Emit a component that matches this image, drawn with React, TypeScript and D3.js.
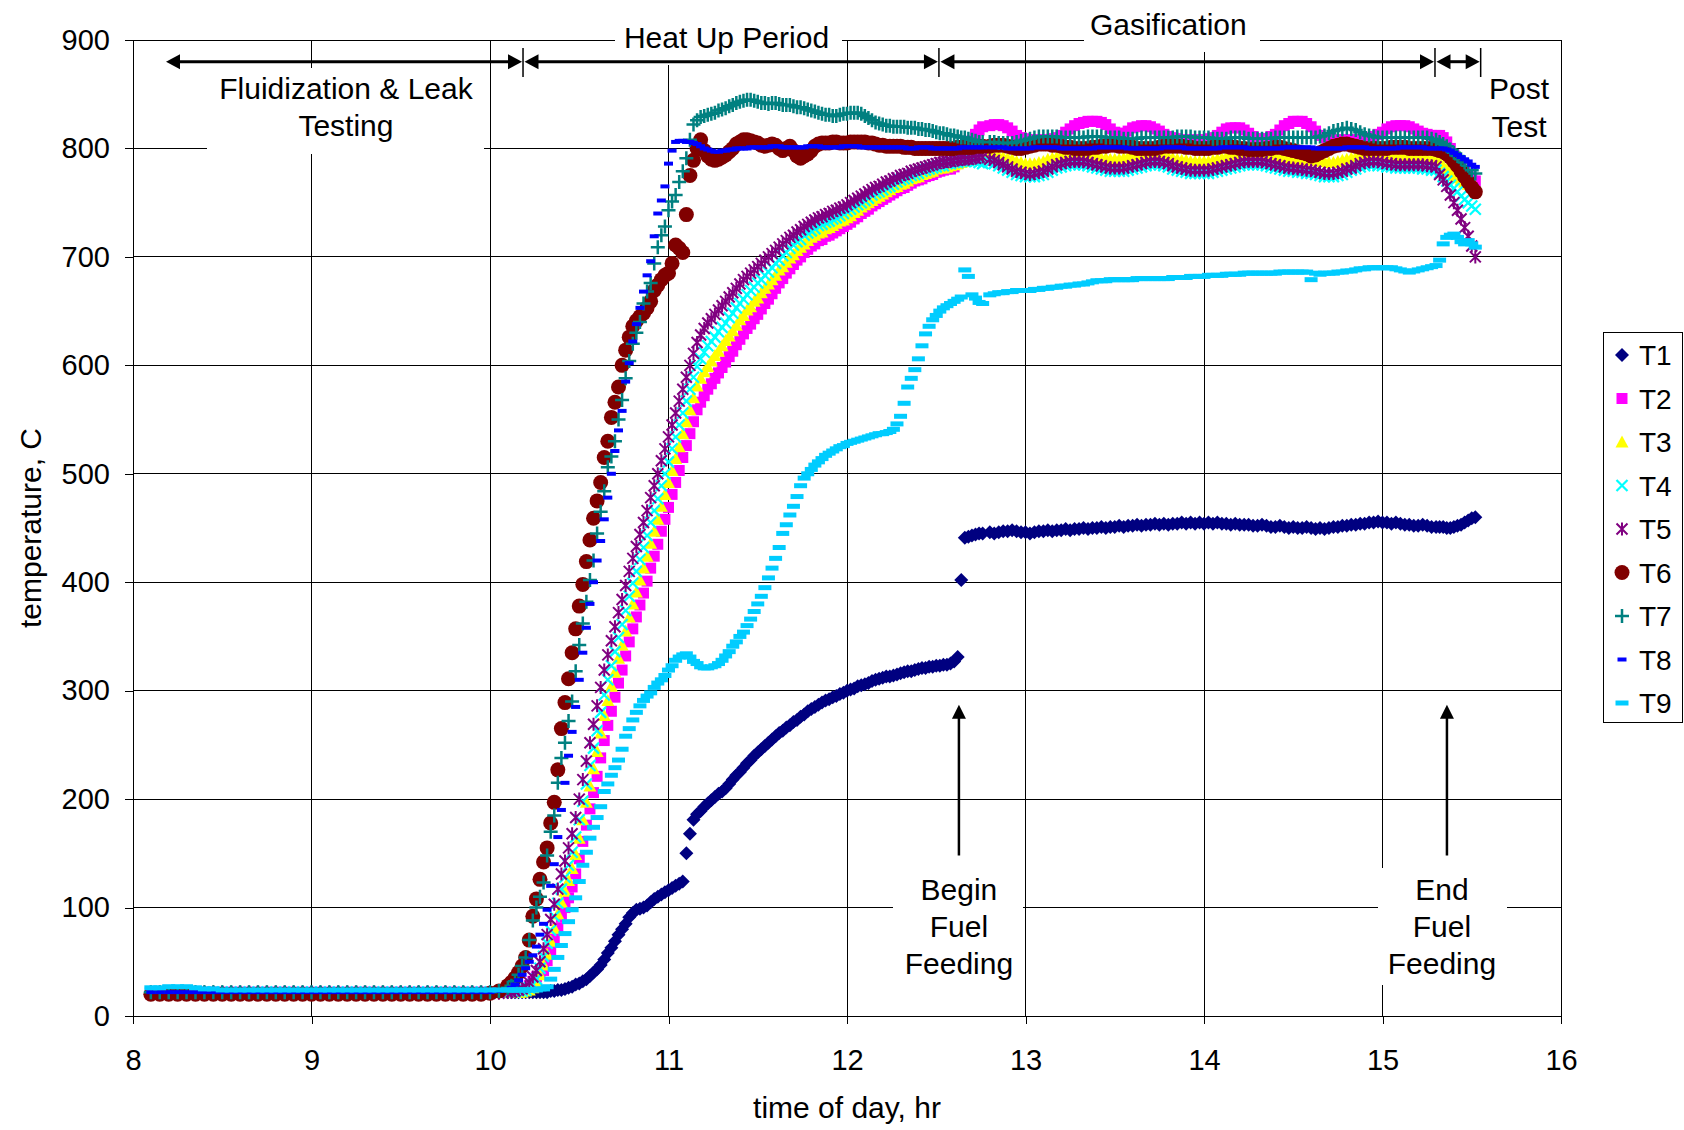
import React, { useEffect, useRef } from 'react';
import * as d3 from 'd3';

const FONT = '"Liberation Sans", Arial, Helvetica, sans-serif';

const xTicks = [8, 9, 10, 11, 12, 13, 14, 15, 16];
const yTicks = [0, 100, 200, 300, 400, 500, 600, 700, 800, 900];

// logger sampling (hours): start, end, step
const sampleSegments: [number, number, number][] = [
  [8.1, 10.1, 0.05],
  [10.12, 12.76, 0.02],
  [12.8, 15.3, 0.025],
  [15.32, 15.52, 0.02],
];

const T1 = [
  22, 22, 22, 22, 22, 22, 22, 22, 22, 22,
  22, 22, 22, 22, 22, 22, 22, 22, 22, 22,
  22, 22, 22, 22, 22, 22, 22, 22, 22, 22,
  22, 22, 22, 22, 22, 22, 22, 22, 22, 22,
  22,
  22, 22, 22, 22, 22, 22, 22, 22, 22, 22,
  22, 23, 23, 24, 24, 25, 26, 27, 29, 30,
  32, 34, 37, 40, 43, 47, 52, 58, 63, 69,
  75, 80, 85, 91, 95, 98, 99, 100, 102, 105,
  108, 110, 112, 114, 116, 118, 120, 122, 124, 150,
  168, 181, 186, 189, 193, 196, 199, 202, 205, 207,
  210, 214, 218, 222, 225, 229, 233, 236, 240, 243,
  246, 249, 252, 255, 258, 261, 263, 266, 268, 271,
  273, 276, 278, 281, 283, 285, 287, 289, 291, 292,
  294, 295, 297, 298, 300, 301, 302, 304, 305, 306,
  307, 309, 310, 311, 312, 313, 313, 314, 315, 316,
  317, 318, 318, 319, 320, 321, 321, 322, 322, 323,
  323, 324, 324, 325, 327, 331, 402, 441, 442, 443,
  444, 445, 445,
  446, 445, 446, 447, 447, 448, 447, 446, 446, 445,
  446, 447, 447, 448, 447, 448, 448, 449, 448, 449,
  449, 450, 449, 450, 450, 451, 450, 451, 451, 452,
  451, 452, 452, 453, 452, 453, 453, 454, 453, 454,
  453, 454, 454, 455, 454, 455, 454, 455, 454, 455,
  454, 455, 454, 454, 453, 454, 453, 453, 453, 452,
  452, 453, 452, 451, 451, 452, 451, 450, 451, 450,
  450, 451, 450, 449, 450, 449, 450, 451, 451, 452,
  452, 453, 453, 454, 454, 455, 455, 456, 455, 455,
  454, 455, 454, 453, 453, 452, 452, 453, 452, 451,
  451,
  451, 451, 450, 450, 451, 452, 453, 455, 457, 459, 460,
];

const T2 = [
  22, 22, 22, 22, 22, 22, 22, 22, 22, 22,
  22, 22, 22, 22, 22, 22, 22, 22, 22, 22,
  22, 22, 22, 22, 22, 22, 22, 22, 22, 22,
  22, 22, 22, 22, 22, 22, 22, 22, 22, 22,
  22,
  22, 22, 23, 24, 25, 28, 32, 36, 40, 42,
  51, 61, 71, 81, 91, 100, 109, 119, 131, 145,
  161, 176, 191, 206, 221, 238, 254, 268, 281, 294,
  307, 319, 332, 345, 357, 368, 379, 390, 401, 413,
  424, 435, 447, 458, 469, 481, 492, 503, 515, 526,
  537, 548, 559, 566, 572, 578, 583, 588, 593, 598,
  603, 608, 613, 619, 624, 629, 634, 638, 643, 647,
  652, 657, 661, 666, 671, 676, 680, 685, 689, 693,
  697, 700, 704, 707, 710, 712, 715, 716, 719, 720,
  722, 724, 726, 728, 730, 732, 735, 737, 740, 742,
  744, 747, 749, 751, 753, 755, 757, 759, 761, 763,
  764, 766, 768, 770, 771, 772, 774, 775, 776, 778,
  779, 780, 781, 781, 783, 786, 790, 795, 801, 807,
  813, 817, 820,
  821, 822, 822, 821, 819, 816, 812, 810, 809, 808,
  808, 808, 808, 808, 809, 810, 812, 815, 818, 821,
  823, 824, 825, 825, 825, 824, 822, 818, 815, 814,
  814, 816, 819, 820, 821, 821, 820, 818, 816, 813,
  811, 810, 809, 808, 808, 808, 808, 808, 808, 809,
  810, 812, 815, 818, 819, 819, 819, 817, 814, 811,
  809, 809, 809, 811, 813, 817, 821, 823, 825, 825,
  825, 823, 820, 816, 812, 810, 809, 808, 808, 808,
  808, 808, 808, 808, 809, 810, 811, 813, 815, 818,
  820, 821, 821, 821, 820, 818, 816, 814, 813, 812,
  812,
  812, 810, 806, 800, 794, 788, 783, 779, 775, 772, 770,
];

const T3 = [
  22, 22, 22, 22, 22, 22, 22, 22, 22, 22,
  22, 22, 22, 22, 22, 22, 22, 22, 22, 22,
  22, 22, 22, 22, 22, 22, 22, 22, 22, 22,
  22, 22, 22, 22, 22, 22, 22, 22, 22, 22,
  22,
  22, 22, 22, 22, 23, 24, 26, 30, 38, 47,
  57, 69, 81, 94, 105, 115, 125, 136, 149, 164,
  181, 197, 212, 228, 244, 261, 277, 291, 304, 317,
  330, 342, 355, 368, 380, 391, 402, 413, 424, 436,
  447, 458, 470, 481, 492, 503, 514, 525, 537, 548,
  559, 570, 581, 588, 594, 599, 604, 609, 613, 618,
  623, 627, 632, 637, 642, 646, 651, 654, 659, 662,
  667, 671, 675, 679, 683, 688, 691, 695, 699, 702,
  706, 709, 712, 715, 718, 720, 722, 723, 726, 727,
  729, 731, 733, 734, 736, 738, 741, 743, 746, 748,
  750, 752, 754, 756, 758, 760, 762, 764, 765, 767,
  768, 770, 772, 773, 774, 776, 777, 778, 779, 781,
  782, 782, 783, 784, 785, 786, 787, 788, 789, 790,
  791, 791, 792,
  794, 794, 793, 792, 791, 790, 788, 787, 786, 786,
  786, 787, 788, 790, 791, 792, 793, 794, 794, 794,
  794, 794, 793, 792, 792, 791, 791, 790, 790, 790,
  791, 792, 793, 794, 794, 795, 795, 795, 794, 793,
  792, 791, 790, 789, 789, 788, 788, 788, 788, 788,
  789, 790, 791, 792, 793, 794, 794, 794, 794, 794,
  794, 794, 793, 792, 792, 791, 791, 790, 790, 790,
  789, 789, 789, 789, 788, 788, 787, 787, 788, 789,
  790, 791, 792, 793, 794, 795, 795, 795, 794, 794,
  793, 792, 792, 792, 792, 792, 792, 792, 791, 790,
  790,
  787, 784, 781, 778, 775, 773, 771, 769, 767, 766, 765,
];

const T4 = [
  22, 22, 22, 22, 22, 22, 22, 22, 22, 22,
  22, 22, 22, 22, 22, 22, 22, 22, 22, 22,
  22, 22, 22, 22, 22, 22, 22, 22, 22, 22,
  22, 22, 22, 22, 22, 22, 22, 22, 22, 22,
  22,
  22, 22, 23, 23, 24, 26, 29, 34, 44, 55,
  67, 79, 92, 104, 117, 128, 139, 151, 165, 181,
  198, 214, 231, 247, 263, 280, 296, 310, 323, 336,
  349, 361, 374, 387, 399, 410, 421, 432, 443, 455,
  466, 477, 489, 500, 511, 523, 534, 545, 556, 567,
  578, 589, 599, 606, 612, 618, 622, 626, 631, 635,
  639, 644, 648, 653, 657, 661, 665, 669, 672, 676,
  679, 683, 686, 690, 694, 697, 701, 704, 708, 711,
  714, 716, 720, 722, 724, 726, 729, 730, 732, 733,
  735, 736, 738, 740, 742, 744, 746, 748, 750, 752,
  754, 757, 759, 760, 762, 764, 765, 767, 769, 771,
  772, 773, 775, 776, 777, 779, 780, 781, 782, 783,
  784, 784, 786, 786, 787, 787, 788, 788, 789, 789,
  788, 787, 786,
  787, 786, 784, 782, 780, 778, 776, 775, 774, 774,
  774, 775, 776, 778, 780, 782, 783, 784, 785, 785,
  785, 785, 784, 783, 782, 781, 780, 779, 779, 779,
  779, 780, 781, 782, 783, 784, 785, 785, 785, 784,
  783, 781, 780, 779, 778, 777, 777, 777, 777, 777,
  778, 779, 780, 781, 782, 783, 784, 785, 785, 785,
  785, 785, 784, 783, 782, 781, 780, 779, 779, 778,
  778, 777, 777, 776, 775, 774, 774, 774, 775, 776,
  778, 780, 781, 783, 784, 785, 785, 784, 784, 783,
  783, 782, 782, 782, 782, 782, 782, 781, 781, 780,
  780,
  777, 774, 770, 766, 763, 760, 756, 753, 750, 747, 744,
];

const T5 = [
  21, 21, 21, 21, 21, 21, 21, 21, 21, 21,
  21, 21, 21, 21, 21, 21, 21, 21, 21, 21,
  21, 21, 21, 21, 21, 21, 21, 21, 21, 21,
  21, 21, 21, 21, 21, 21, 21, 21, 21, 21,
  22,
  22, 23, 24, 25, 27, 31, 36, 42, 50, 62,
  75, 89, 103, 117, 131, 143, 155, 168, 183, 200,
  218, 235, 252, 269, 286, 303, 319, 333, 346, 359,
  372, 384, 397, 410, 422, 433, 444, 455, 466, 478,
  489, 500, 512, 523, 534, 545, 556, 567, 578, 589,
  600, 611, 621, 628, 634, 639, 643, 647, 651, 655,
  659, 663, 667, 671, 675, 679, 682, 685, 688, 691,
  694, 697, 700, 703, 706, 709, 712, 715, 718, 720,
  723, 725, 728, 730, 732, 734, 736, 737, 739, 740,
  742, 743, 745, 746, 748, 750, 752, 754, 756, 758,
  760, 762, 764, 765, 767, 769, 770, 772, 773, 775,
  776, 777, 779, 780, 781, 782, 783, 784, 785, 786,
  787, 787, 788, 788, 789, 789, 790, 790, 790, 791,
  791, 792, 792,
  790, 789, 787, 785, 783, 781, 779, 778, 777, 776,
  777, 778, 779, 781, 783, 785, 786, 787, 788, 788,
  788, 788, 787, 786, 785, 784, 783, 782, 782, 782,
  782, 783, 784, 785, 786, 787, 788, 788, 788, 787,
  786, 784, 783, 782, 781, 780, 780, 780, 780, 780,
  781, 782, 783, 784, 785, 786, 787, 788, 788, 788,
  788, 788, 787, 786, 785, 784, 783, 782, 782, 781,
  781, 780, 780, 779, 778, 777, 777, 777, 778, 779,
  781, 782, 784, 786, 787, 788, 788, 788, 787, 786,
  786, 785, 785, 785, 785, 785, 785, 785, 784, 784,
  783,
  776, 771, 765, 757, 750, 743, 735, 727, 719, 710, 700,
];

const T6 = [
  20, 20, 20, 20, 20, 20, 20, 20, 20, 20,
  20, 20, 20, 20, 20, 20, 20, 20, 20, 20,
  20, 20, 20, 20, 20, 20, 20, 20, 20, 20,
  20, 20, 20, 20, 20, 20, 20, 20, 21, 23,
  28,
  31, 35, 40, 46, 54, 70, 92, 108, 126, 142,
  155, 178, 197, 227, 265, 289, 311, 335, 357, 378,
  398, 419, 439, 459, 475, 492, 515, 530, 552, 566,
  580, 600, 614, 626, 636, 641, 645, 648, 653, 659,
  669, 674, 679, 683, 685, 694, 711, 708, 704, 739,
  775, 789, 800, 808, 798, 793, 790, 789, 790, 792,
  794, 797, 800, 804, 806, 808, 808, 807, 806, 805,
  803, 802, 803, 804, 803, 800, 798, 800, 802, 798,
  793, 791, 793, 795, 798, 802, 804, 805, 805, 805,
  806, 806, 805, 805, 805, 806, 806, 806, 806, 806,
  805, 805, 804, 803, 803, 802, 802, 802, 802, 802,
  801, 801, 801, 800, 800, 800, 800, 800, 800, 800,
  800, 800, 800, 800, 800, 801, 801, 801, 801, 801,
  802, 802, 802,
  802, 803, 803, 803, 802, 801, 800, 800, 801, 802,
  803, 804, 804, 804, 803, 803, 802, 801, 801, 800,
  800, 800, 800, 801, 801, 802, 802, 803, 803, 802,
  802, 802, 801, 800, 800, 800, 800, 800, 801, 802,
  802, 802, 802, 802, 801, 801, 800, 800, 800, 800,
  801, 801, 802, 802, 801, 801, 800, 800, 799, 799,
  799, 799, 800, 800, 801, 801, 800, 799, 798, 797,
  796, 795, 793, 794, 796, 798, 800, 802, 803, 804,
  804, 803, 802, 801, 800, 800, 800, 800, 800, 800,
  801, 801, 801, 801, 800, 800, 800, 800, 800, 800,
  799,
  798, 797, 795, 792, 788, 784, 779, 774, 769, 764, 760,
];

const T7 = [
  22, 22, 22, 22, 22, 22, 22, 22, 22, 22,
  22, 22, 22, 22, 22, 22, 22, 22, 22, 22,
  22, 22, 22, 22, 22, 22, 22, 22, 22, 22,
  22, 22, 22, 22, 22, 22, 22, 22, 22, 23,
  26,
  28, 32, 38, 46, 54, 70, 88, 100, 110, 123,
  148, 170, 185, 215, 238, 252, 272, 290, 318, 342,
  362, 382, 402, 420, 445, 465, 484, 506, 516, 530,
  550, 568, 588, 604, 620, 630, 640, 657, 668, 676,
  694, 709, 720, 728, 743, 751, 757, 769, 779, 791,
  808, 822, 826, 829, 830, 831, 832, 833, 835, 836,
  837, 839, 840, 842, 843, 844, 845, 845, 844, 843,
  842, 842, 841, 842, 842, 841, 840, 840, 840, 839,
  838, 838, 837, 836, 835, 834, 833, 832, 831, 831,
  830, 830, 831, 832, 832, 833, 833, 833, 832, 830,
  828, 826, 824, 823, 822, 821, 821, 820, 820, 820,
  820, 819, 819, 819, 818, 818, 817, 817, 816, 815,
  814, 814, 813, 812, 812, 811, 810, 810, 809, 808,
  807, 806, 806,
  806, 806, 805, 805, 805, 805, 806, 807, 808, 809,
  810, 811, 811, 811, 811, 811, 810, 810, 810, 810,
  810, 810, 811, 811, 811, 811, 810, 810, 810, 810,
  809, 809, 809, 809, 810, 810, 810, 810, 810, 810,
  810, 810, 811, 811, 811, 811, 810, 810, 810, 810,
  809, 809, 809, 809, 810, 810, 810, 810, 809, 809,
  809, 809, 809, 809, 810, 810, 810, 810, 810, 810,
  810, 810, 810, 810, 811, 812, 814, 816, 817, 818,
  819, 818, 817, 815, 813, 812, 811, 810, 810, 810,
  810, 810, 810, 810, 810, 810, 810, 810, 810, 809,
  808,
  806, 804, 802, 799, 796, 793, 790, 787, 784, 780, 777,
];

const T8 = [
  22, 22, 22, 22, 22, 22, 22, 22, 22, 22,
  22, 22, 22, 22, 22, 22, 22, 22, 22, 22,
  22, 22, 22, 22, 22, 22, 22, 22, 22, 22,
  22, 22, 22, 22, 22, 22, 22, 22, 22, 23,
  24,
  26, 29, 33, 38, 44, 50, 56, 64, 75, 85,
  98, 120, 140, 165, 190, 215, 240, 262, 285, 310,
  335, 358, 380, 400, 420, 438, 458, 478, 500, 521,
  540, 558, 585, 602, 622, 638, 653, 668, 683, 696,
  719, 740, 752, 765, 786, 798, 806, 807, 807, 806,
  806, 805, 804, 802, 800, 799, 798, 797, 797, 798,
  798, 799, 799, 800, 800, 800, 800, 801, 801, 801,
  801, 801, 801, 802, 802, 802, 801, 801, 801, 801,
  801, 801, 801, 802, 802, 802, 802, 801, 801, 801,
  801, 801, 801, 802, 802, 802, 802, 802, 801, 801,
  801, 801, 801, 801, 801, 801, 801, 801, 801, 801,
  801, 800, 800, 800, 801, 801, 801, 801, 800, 800,
  800, 800, 800, 800, 800, 800, 801, 801, 801, 801,
  801, 801, 801,
  801, 801, 801, 801, 800, 800, 800, 800, 800, 800,
  801, 801, 801, 801, 801, 801, 800, 800, 800, 800,
  800, 800, 800, 800, 801, 801, 801, 801, 801, 801,
  801, 800, 800, 800, 800, 800, 800, 800, 800, 801,
  801, 801, 801, 801, 800, 800, 800, 800, 800, 800,
  800, 800, 801, 801, 801, 801, 801, 801, 800, 800,
  800, 800, 800, 800, 800, 800, 801, 801, 801, 801,
  801, 801, 801, 800, 800, 800, 800, 800, 800, 800,
  801, 801, 801, 801, 801, 800, 800, 800, 800, 800,
  800, 800, 801, 801, 801, 801, 801, 801, 800, 800,
  800,
  800, 800, 799, 798, 796, 794, 792, 790, 788, 785, 783,
];

const T9 = [
  26, 26, 27, 27, 27, 26, 25, 25, 24, 24,
  24, 24, 24, 24, 24, 24, 24, 24, 24, 24,
  24, 24, 24, 24, 24, 24, 24, 24, 24, 24,
  24, 24, 24, 24, 24, 24, 24, 24, 24, 24,
  24,
  24, 24, 24, 24, 24, 24, 24, 24, 25, 25,
  27, 34, 43, 54, 65, 76, 87, 98, 109, 124,
  139, 151, 164, 174, 183, 193, 207, 214, 222, 229,
  236, 246, 258, 265, 273, 280, 286, 291, 295, 298,
  303, 307, 310, 314, 319, 323, 328, 331, 333, 334,
  331, 327, 325, 322, 321, 321, 322, 323, 325, 328,
  332, 336, 341, 345, 350, 354, 360, 366, 373, 380,
  387, 395, 404, 413, 422, 432, 445, 453, 462, 470,
  479, 489, 496, 500, 504, 508, 511, 514, 517, 519,
  521, 523, 525, 526, 528, 529, 530, 531, 532, 533,
  534, 535, 536, 537, 537, 538, 539, 541, 546, 553,
  565, 580, 588, 596, 606, 618, 629, 636, 642, 646,
  650, 653, 655, 657, 659, 661, 663, 688, 682, 665,
  662, 658, 657,
  665, 666, 667, 667, 668, 668, 669, 669, 669, 669,
  670, 670, 671, 671, 672, 672, 673, 673, 674, 674,
  675, 675, 676, 677, 678, 678, 678, 679, 679, 679,
  679, 679, 679, 680, 680, 680, 680, 680, 680, 680,
  680, 681, 681, 681, 681, 682, 682, 682, 682, 683,
  683, 683, 683, 684, 684, 684, 684, 685, 685, 685,
  685, 685, 685, 685, 685, 686, 686, 686, 686, 686,
  686, 686, 679, 685, 684, 685, 685, 685, 686, 686,
  687, 687, 688, 689, 689, 690, 690, 690, 690, 690,
  690, 689, 688, 687, 686, 687, 688, 689, 690, 691,
  692,
  697, 712, 718, 720, 721, 718, 714, 712, 715, 712, 709,
];

const seriesNames = ['T1', 'T2', 'T3', 'T4', 'T5', 'T6', 'T7', 'T8', 'T9'];
const seriesValues = [T1, T2, T3, T4, T5, T6, T7, T8, T9];

// test phases across the top (hours)
const phaseBounds = [8.185, 10.185, 12.515, 15.294, 15.55];
// fuel feeding start / stop (hours) and the arrow span (deg C)
const fuelEvents = [12.627, 15.361];
const fuelArrowSpan = [148, 287];

// marker look per series (Excel style)
const markerStyles = [
  { d: 'M0,-7L7,0L0,7L-7,0Z', fill: '#000080' },
  { d: 'M-5.5,-5.5h11v11h-11Z', fill: '#FF00FF' },
  { d: 'M0,-6.5L6.5,5.5L-6.5,5.5Z', fill: '#FFFF00' },
  { d: 'M-5.5,-5.5L5.5,5.5M-5.5,5.5L5.5,-5.5', stroke: '#00FFFF', sw: 2.2 },
  { d: 'M-5.5,-5.5L5.5,5.5M-5.5,5.5L5.5,-5.5M0,-6.5V6.5', stroke: '#800080', sw: 2 },
  { d: 'M7.5,0A7.5,7.5 0 1,1 -7.5,0A7.5,7.5 0 1,1 7.5,0Z', fill: '#800000' },
  { d: 'M-7,0H7M0,-7V7', stroke: '#008080', sw: 2.5 },
  { d: 'M-4.5,-2h9v4h-9Z', fill: '#0000FF' },
  { d: 'M-6.5,-2.5h13v5h-13Z', fill: '#00CCFF' },
];

const times = sampleSegments.flatMap(([a, b, s]) => {
  const n = Math.round((b - a) / s) + 1;
  return d3.range(n).map(i => Math.round((a + i * s) * 1000) / 1000);
});

const App = () => {
  const svgRef = useRef<SVGSVGElement | null>(null);

  useEffect(() => {
    if (!svgRef.current) return;
    const svg = d3.select(svgRef.current);
    svg.selectAll('*').remove();

    const x = d3.scaleLinear().domain([8, 16]).range([133, 1561]);
    const y = d3.scaleLinear().domain([0, 900]).range([1016, 40]);

    svg.append('rect').attr('width', 1684).attr('height', 1130).attr('fill', '#fff');

    // gridlines
    const grid = svg.append('g')
      .attr('stroke', '#000')
      .attr('stroke-width', 1)
      .attr('shape-rendering', 'crispEdges');
    grid.selectAll('.gh').data(yTicks).join('line').attr('class', 'gh')
      .attr('x1', x(8)).attr('x2', x(16))
      .attr('y1', d => y(d)).attr('y2', d => y(d));
    grid.selectAll('.gv').data(xTicks).join('line').attr('class', 'gv')
      .attr('x1', d => x(d)).attr('x2', d => x(d))
      .attr('y1', y(900)).attr('y2', y(0));

    // axes
    const yAxis = svg.append('g')
      .attr('transform', `translate(${x(8)},0)`)
      .call(d3.axisLeft(y).tickValues(yTicks).tickSize(8).tickSizeOuter(0).tickPadding(15));
    const xAxis = svg.append('g')
      .attr('transform', `translate(0,${y(0)})`)
      .call(d3.axisBottom(x).tickValues(xTicks).tickSize(8).tickSizeOuter(0).tickPadding(25)
        .tickFormat(d3.format('d')));
    [yAxis, xAxis].forEach(a => {
      a.attr('font-family', FONT).attr('font-size', 29);
      a.selectAll('text').attr('fill', '#000');
      a.selectAll('line, path').attr('stroke', '#000').attr('shape-rendering', 'crispEdges');
    });

    // data markers, T1 drawn first
    seriesValues.forEach((vals, si) => {
      const st = markerStyles[si];
      const pts = times.map((t, i) => [t, vals[i]]).filter(p => p[1] != null);
      svg.append('g')
        .selectAll('path').data(pts).join('path')
        .attr('transform', d => `translate(${x(d[0])},${y(d[1])})`)
        .attr('d', st.d)
        .attr('fill', st.fill || 'none')
        .attr('stroke', st.stroke || 'none')
        .attr('stroke-width', st.sw || 0);
    });

    // white label boxes that break the gridlines
    const boxes = [
      [207, 68, 277, 86],
      [615, 12, 227, 53],
      [1084, 0, 176, 52],
      [893, 868, 130, 117],
      [1378, 868, 129, 117],
    ];
    svg.append('g').selectAll('rect').data(boxes).join('rect')
      .attr('x', d => d[0]).attr('y', d => d[1])
      .attr('width', d => d[2]).attr('height', d => d[3])
      .attr('fill', '#fff');

    // phase arrows
    const ay = 61.7;
    const arrows = svg.append('g').attr('fill', '#000').attr('stroke', '#000');
    const headL = (px: number) => `M${px},${ay}L${px + 14},${ay - 7.5}L${px + 14},${ay + 7.5}Z`;
    const headR = (px: number) => `M${px},${ay}L${px - 14},${ay - 7.5}L${px - 14},${ay + 7.5}Z`;
    d3.pairs(phaseBounds).forEach(([a, b], i) => {
      const x0 = x(a) + (i === 0 ? 0 : 1.5);
      const x1 = x(b) - 1;
      arrows.append('line').attr('x1', x0 + 10).attr('x2', x1 - 10)
        .attr('y1', ay).attr('y2', ay).attr('stroke-width', 3);
      arrows.append('path').attr('d', headL(x0)).attr('stroke', 'none');
      arrows.append('path').attr('d', headR(x1)).attr('stroke', 'none');
    });
    phaseBounds.slice(1).forEach(b => {
      arrows.append('line').attr('x1', x(b)).attr('x2', x(b))
        .attr('y1', 48).attr('y2', 77).attr('stroke-width', 1.5);
    });

    // fuel feeding arrows
    fuelEvents.forEach(t => {
      const px = x(t);
      const tip = y(fuelArrowSpan[1]);
      arrows.append('line').attr('x1', px).attr('x2', px)
        .attr('y1', y(fuelArrowSpan[0])).attr('y2', tip + 10).attr('stroke-width', 2.5);
      arrows.append('path').attr('stroke', 'none')
        .attr('d', `M${px},${tip}L${px - 7},${tip + 14}L${px + 7},${tip + 14}Z`);
    });

    // annotation text
    const labels: [number, number, string][] = [
      [9.193, 99, 'Fluidization & Leak'],
      [9.193, 136, 'Testing'],
      [11.325, 48, 'Heat Up Period'],
      [13.8, 35, 'Gasification'],
      [15.765, 99, 'Post'],
      [15.765, 137, 'Test'],
      [fuelEvents[0], 900, 'Begin'],
      [fuelEvents[0], 937, 'Fuel'],
      [fuelEvents[0], 974, 'Feeding'],
      [15.333, 900, 'End'],
      [15.333, 937, 'Fuel'],
      [15.333, 974, 'Feeding'],
    ];
    svg.append('g')
      .attr('font-family', FONT).attr('font-size', 30).attr('text-anchor', 'middle')
      .selectAll('text').data(labels).join('text')
      .attr('x', d => x(d[0])).attr('y', d => d[1])
      .text(d => d[2]);

    // axis titles
    svg.append('text')
      .attr('x', (x(8) + x(16)) / 2).attr('y', 1118)
      .attr('text-anchor', 'middle').attr('font-family', FONT).attr('font-size', 30)
      .text('time of day, hr');
    svg.append('text')
      .attr('transform', `translate(41,${(y(0) + y(900)) / 2}) rotate(-90)`)
      .attr('text-anchor', 'middle').attr('font-family', FONT).attr('font-size', 30)
      .text('temperature, C');

    // legend
    const leg = svg.append('g');
    leg.append('rect')
      .attr('x', 1603.5).attr('y', 332.5).attr('width', 79).attr('height', 390)
      .attr('fill', '#fff').attr('stroke', '#000').attr('stroke-width', 1);
    seriesNames.forEach((name, i) => {
      const st = markerStyles[i];
      const cy = 355 + i * 43.5;
      leg.append('path')
        .attr('transform', `translate(1622,${cy})`)
        .attr('d', st.d)
        .attr('fill', st.fill || 'none')
        .attr('stroke', st.stroke || 'none')
        .attr('stroke-width', st.sw || 0);
      leg.append('text')
        .attr('x', 1639).attr('y', cy + 10)
        .attr('font-family', FONT).attr('font-size', 28)
        .text(name);
    });
  }, []);

  return (
    <svg
      ref={svgRef}
      width={1684}
      height={1130}
      style={{ position: 'absolute', left: 0, top: 0, display: 'block' }}
    />
  );
};

export default App;
